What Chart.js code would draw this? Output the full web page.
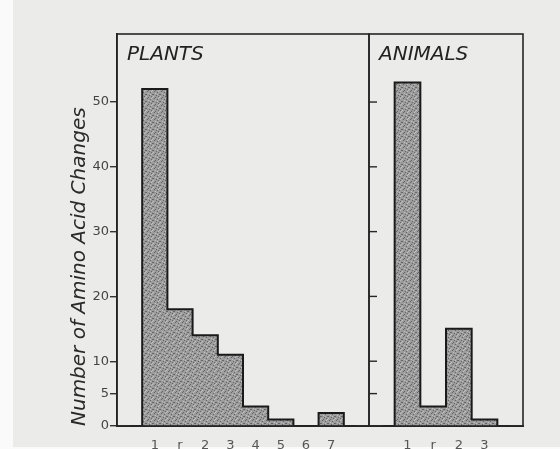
<!DOCTYPE html>
<html>
<head>
<meta charset="utf-8">
<script src="https://cdn.jsdelivr.net/npm/chart.js@4"></script>
<style>
  body { margin: 0; background: #fafafa; }
  #papel { position: absolute; left: 13px; top: 0; width: 547px; height: 447px; background: #ebebea; }
  .panel { position: absolute; top: 0; height: 449px; }
  #plantas { left: 62px; width: 308px; }
  #animales { left: 360px; width: 200px; }
</style>
</head>
<body>
<div id="papel"></div>
<div class="panel" id="plantas"><canvas id="graficoPlantas"></canvas></div>
<div class="panel" id="animales"><canvas id="graficoAnimales"></canvas></div>
<script>
// datos
const categoriasPlantas = ['', '1', 'r', '2', '3', '4', '5', '6', '7', ''];
const valoresPlantas = [0, 52, 18, 14, 11, 3, 1, 0, 2, 0];
const categoriasAnimales = ['', '1', 'r', '2', '3', ''];
const valoresAnimales = [0, 53, 3, 15, 1, 0];
const marcasY = [0, 5, 10, 20, 30, 40, 50];
const maximoY = 60.5;

// textura punteada del relleno
function crearTextura() {
    const c = document.createElement('canvas');
    c.width = 7; c.height = 7;
    const ctx = c.getContext('2d');
    ctx.fillStyle = '#9c9c9c';
    ctx.fillRect(0, 0, 7, 7);
    const oscuros = [[1, 0], [4, 1], [0, 3], [3, 4], [6, 3], [2, 6], [5, 5]];
    const claros = [[2, 2], [5, 0], [6, 6], [0, 5], [4, 3]];
    ctx.fillStyle = '#666';
    oscuros.forEach(p => ctx.fillRect(p[0], p[1], 1, 1));
    ctx.fillStyle = '#c0c0c0';
    claros.forEach(p => ctx.fillRect(p[0], p[1], 1, 1));
    return ctx.createPattern(c, 'repeat');
}
const textura = crearTextura();

const marco = {
    id: 'marco',
    afterDraw(chart, args, opts) {
        const ctx = chart.ctx;
        const a = chart.chartArea;
        ctx.save();
        ctx.strokeStyle = '#262626';
        ctx.lineWidth = 1.6;
        ctx.strokeRect(a.left, a.top, a.right - a.left, a.bottom - a.top);
        if (opts.marcasInternas) {
            const y = chart.scales.y;
            ctx.lineWidth = 1.4;
            marcasY.slice(1).forEach(v => {
                const py = y.getPixelForValue(v);
                ctx.beginPath();
                ctx.moveTo(a.left, py);
                ctx.lineTo(a.left + 8, py);
                ctx.stroke();
            });
        }
        ctx.fillStyle = '#222';
        ctx.font = 'italic 20px "DejaVu Sans"';
        ctx.textBaseline = 'alphabetic';
        ctx.fillText(opts.titulo, a.left + 10, a.top + 26);
        ctx.restore();
    }
};

function crearGrafico(id, categorias, valores, conEjeY, titulo, relleno) {
    const contexto = document.getElementById(id).getContext('2d');
    return new Chart(contexto, {
        data: {
            labels: categorias,
            datasets: [{
                type: 'line',
                data: valores,
                stepped: 'middle',
                borderColor: '#1a1a1a',
                borderWidth: 2,
                pointRadius: 0,
                fill: false,
                order: 0
            }, {
                type: 'bar',
                data: valores,
                backgroundColor: textura,
                borderWidth: 0,
                barPercentage: 1,
                categoryPercentage: 1,
                order: 1
            }]
        },
        options: {
            responsive: true,
            maintainAspectRatio: false,
            animation: false,
            layout: { padding: { top: 34, left: relleno.left, right: relleno.right, bottom: 0 } },
            plugins: {
                legend: { display: false },
                tooltip: { enabled: false },
                marco: { titulo: titulo, marcasInternas: !conEjeY }
            },
            scales: {
                x: {
                    type: 'category',
                    grid: { display: false },
                    border: { display: true, color: '#222', width: 2 },
                    ticks: {
                        autoSkip: false,
                        maxRotation: 0,
                        padding: 4,
                        color: '#555',
                        font: { family: 'DejaVu Sans', size: 13 }
                    },
                    afterFit: (scale) => { scale.height = 23; }
                },
                y: {
                    display: conEjeY,
                    min: 0,
                    max: maximoY,
                    afterBuildTicks: (scale) => { scale.ticks = marcasY.map(v => ({ value: v })); },
                    grid: { drawOnChartArea: false, drawTicks: true, tickLength: 7, color: '#333', lineWidth: 1.4 },
                    border: { display: true, color: '#222', width: 1.6 },
                    ticks: {
                        padding: 1,
                        color: '#444',
                        font: { family: 'DejaVu Sans', size: 13 }
                    },
                    title: {
                        display: conEjeY,
                        text: 'Number of Amino Acid Changes',
                        align: 'start',
                        color: '#2a2a2a',
                        padding: { top: 6, bottom: 0 },
                        font: { family: 'DejaVu Sans', size: 20, style: 'italic' }
                    },
                    afterFit: (scale) => { scale.width = conEjeY ? 55 : 0; }
                }
            }
        },
        plugins: [marco]
    });
}

crearGrafico('graficoPlantas', categoriasPlantas, valoresPlantas, true, 'PLANTS', { left: 0, right: 1 });
crearGrafico('graficoAnimales', categoriasAnimales, valoresAnimales, false, 'ANIMALS', { left: 9, right: 37 });
</script>
</body>
</html>
